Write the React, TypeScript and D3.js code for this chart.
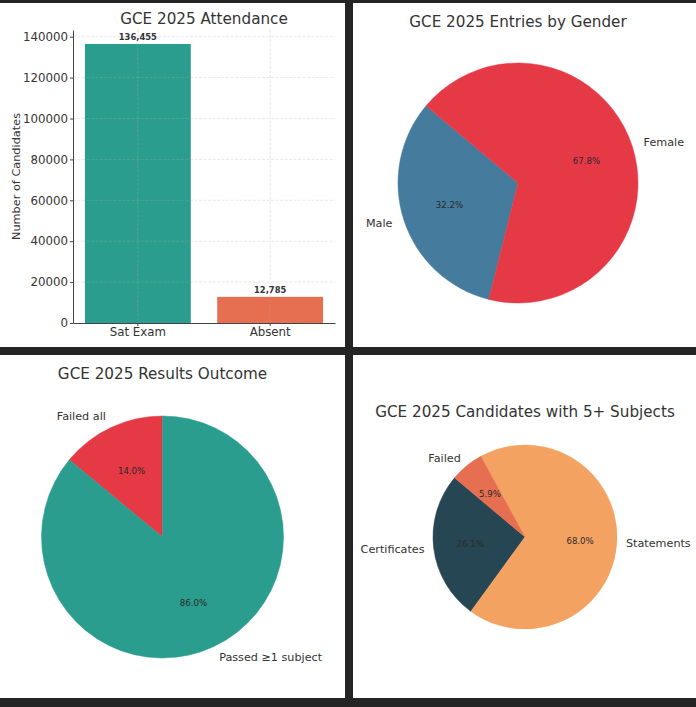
import React, { useRef, useEffect } from 'react';
import * as d3 from 'd3';

// Attendance bar chart
const attendanceCategories = ['Sat Exam', 'Absent'];
const attendanceCounts = [136455, 12785];
const attendanceColors = ['#2a9d8f', '#e76f51'];
const attendanceTicks = [0, 20000, 40000, 60000, 80000, 100000, 120000, 140000];

// Entries by gender
const genderLabels = ['Male', 'Female'];
const genderShares = [32.2, 67.8];
const genderColors = ['#457b9d', '#e63946'];

// Results outcome
const outcomeLabels = ['Failed all', 'Passed ≥1 subject'];
const outcomeShares = [14.0, 86.0];
const outcomeColors = ['#e63946', '#2a9d8f'];

// Candidates with 5+ subjects
const fivePlusLabels = ['Certificates', 'Statements', 'Failed'];
const fivePlusShares = [26.1, 68.0, 5.9];
const fivePlusColors = ['#264653', '#f4a261', '#e76f51'];

const WIDTH = 696;
const HEIGHT = 707;
const FONT = 'DejaVu Sans, sans-serif';
const TEXT = '#333';

interface PieSpec {
  title: string;
  titleY: number;
  cx: number;
  cy: number;
  r: number;
  labels: string[];
  values: number[];
  colors: string[];
  startDeg: number;
}

// matplotlib-style pie: counter-clockwise from startDeg (degrees from +x axis)
function drawPie(svg: d3.Selection<SVGSVGElement, unknown, null, undefined>, spec: PieSpec) {
  const { title, titleY, cx, cy, r, labels, values, colors, startDeg } = spec;
  const start = ((90 - startDeg) * Math.PI) / 180;
  const total = d3.sum(values);

  const arcs = d3.pie<number>()
    .sort(null)
    .value(d => d)
    .startAngle(start)
    .endAngle(start - 2 * Math.PI)(values);

  const arc = d3.arc<d3.PieArcDatum<number>>().innerRadius(0).outerRadius(r);

  const g = svg.append('g').attr('transform', `translate(${cx},${cy})`);

  g.selectAll('path.wedge')
    .data(arcs)
    .join('path')
    .attr('class', 'wedge')
    .attr('d', arc)
    .attr('fill', (_, i) => colors[i])
    .attr('stroke', (_, i) => colors[i])
    .attr('stroke-width', 0.5);

  const mid = (d: d3.PieArcDatum<number>) => (d.startAngle + d.endAngle) / 2;

  // category labels at 1.1 r
  g.selectAll('text.label')
    .data(arcs)
    .join('text')
    .attr('class', 'label')
    .attr('x', d => 1.1 * r * Math.sin(mid(d)))
    .attr('y', d => -1.1 * r * Math.cos(mid(d)))
    .attr('text-anchor', d => (Math.sin(mid(d)) >= 0 ? 'start' : 'end'))
    .attr('dominant-baseline', 'central')
    .style('font-family', FONT)
    .style('font-size', '11.2px')
    .style('fill', TEXT)
    .text((_, i) => labels[i]);

  // percentages at 0.6 r
  g.selectAll('text.pct')
    .data(arcs)
    .join('text')
    .attr('class', 'pct')
    .attr('x', d => 0.6 * r * Math.sin(mid(d)))
    .attr('y', d => -0.6 * r * Math.cos(mid(d)))
    .attr('text-anchor', 'middle')
    .attr('dominant-baseline', 'central')
    .style('font-family', FONT)
    .style('font-size', '8.6px')
    .style('fill', '#2a2a2a')
    .text(d => `${((d.value / total) * 100).toFixed(1)}%`);

  svg.append('text')
    .attr('x', cx)
    .attr('y', titleY)
    .attr('text-anchor', 'middle')
    .style('font-family', FONT)
    .style('font-size', '15.2px')
    .style('fill', TEXT)
    .text(title);
}

const App: React.FC = () => {
  const svgRef = useRef<SVGSVGElement | null>(null);

  useEffect(() => {
    const svg = d3.select(svgRef.current as SVGSVGElement);
    svg.selectAll('*').remove();

    // dark backdrop with four white panels
    svg.append('rect').attr('width', WIDTH).attr('height', HEIGHT).attr('fill', '#242424');
    const panels = [
      [0, 3, 345, 344],
      [353, 3, 343, 344],
      [0, 355, 345, 343],
      [353, 355, 343, 343],
    ];
    svg.selectAll('rect.panel')
      .data(panels)
      .join('rect')
      .attr('class', 'panel')
      .attr('x', d => d[0])
      .attr('y', d => d[1])
      .attr('width', d => d[2])
      .attr('height', d => d[3])
      .attr('fill', '#fff');

    // ---- bar chart ----
    const left = 73, right = 335, top = 30, bottom = 323;
    const x = d3.scaleBand<string>()
      .domain(attendanceCategories)
      .range([left, right])
      .paddingInner(0.2)
      .paddingOuter(0.09);
    const y = d3.scaleLinear()
      .domain([0, d3.max(attendanceCounts)! * 1.05])
      .range([bottom, top]);

    const bars = svg.append('g');
    bars.selectAll('rect')
      .data(attendanceCounts)
      .join('rect')
      .attr('x', (_, i) => x(attendanceCategories[i])!)
      .attr('width', x.bandwidth())
      .attr('y', d => y(d))
      .attr('height', d => y(0) - y(d))
      .attr('fill', (_, i) => attendanceColors[i]);

    // dashed grid on top of the bars
    const grid = svg.append('g')
      .attr('stroke', '#b0b0b0')
      .attr('stroke-opacity', 0.35)
      .attr('stroke-width', 0.8)
      .attr('stroke-dasharray', '3,1.5');
    grid.selectAll('line.h')
      .data(attendanceTicks.slice(1))
      .join('line')
      .attr('class', 'h')
      .attr('x1', left).attr('x2', right)
      .attr('y1', d => y(d)).attr('y2', d => y(d));
    grid.selectAll('line.v')
      .data(attendanceCategories)
      .join('line')
      .attr('class', 'v')
      .attr('x1', d => x(d)! + x.bandwidth() / 2)
      .attr('x2', d => x(d)! + x.bandwidth() / 2)
      .attr('y1', top).attr('y2', bottom);

    const yAxis = svg.append('g')
      .attr('transform', `translate(${left},0)`)
      .call(d3.axisLeft(y).tickValues(attendanceTicks).tickFormat(d3.format('d')).tickSize(3).tickPadding(2).tickSizeOuter(0));
    const xAxis = svg.append('g')
      .attr('transform', `translate(0,${bottom})`)
      .call(d3.axisBottom(x).tickSize(3).tickPadding(2).tickSizeOuter(0));
    [yAxis, xAxis].forEach(a => {
      a.select('.domain').attr('stroke', '#444').attr('stroke-width', 1);
      a.selectAll('.tick line').attr('stroke', '#444');
      a.selectAll('.tick text')
        .style('font-family', FONT)
        .style('font-size', '11.8px')
        .style('fill', TEXT);
    });

    svg.append('text')
      .attr('transform', `translate(16,${(top + bottom) / 2}) rotate(-90)`)
      .attr('text-anchor', 'middle')
      .attr('dominant-baseline', 'central')
      .style('font-family', FONT)
      .style('font-size', '11.3px')
      .style('fill', TEXT)
      .text('Number of Candidates');

    // value labels
    svg.append('g')
      .selectAll('text')
      .data(attendanceCounts)
      .join('text')
      .attr('x', (_, i) => x(attendanceCategories[i])! + x.bandwidth() / 2)
      .attr('y', d => y(d) - 4)
      .attr('text-anchor', 'middle')
      .style('font-family', FONT)
      .style('font-size', '8.4px')
      .style('font-weight', 'bold')
      .style('fill', TEXT)
      .text(d => d3.format(',')(d));

    svg.append('text')
      .attr('x', (left + right) / 2)
      .attr('y', 24)
      .attr('text-anchor', 'middle')
      .style('font-family', FONT)
      .style('font-size', '15.2px')
      .style('fill', TEXT)
      .text('GCE 2025 Attendance');

    // ---- pies ----
    drawPie(svg, {
      title: 'GCE 2025 Entries by Gender', titleY: 27,
      cx: 518, cy: 183, r: 120,
      labels: genderLabels, values: genderShares, colors: genderColors, startDeg: 140,
    });
    drawPie(svg, {
      title: 'GCE 2025 Results Outcome', titleY: 379,
      cx: 162.5, cy: 537, r: 121,
      labels: outcomeLabels, values: outcomeShares, colors: outcomeColors, startDeg: 90,
    });
    drawPie(svg, {
      title: 'GCE 2025 Candidates with 5+ Subjects', titleY: 417,
      cx: 525, cy: 537, r: 92,
      labels: fivePlusLabels, values: fivePlusShares, colors: fivePlusColors, startDeg: 140,
    });
  }, []);

  return (
    <svg
      ref={svgRef}
      width={WIDTH}
      height={HEIGHT}
      style={{ position: 'absolute', left: 0, top: 0, display: 'block' }}
    />
  );
};

export default App;
